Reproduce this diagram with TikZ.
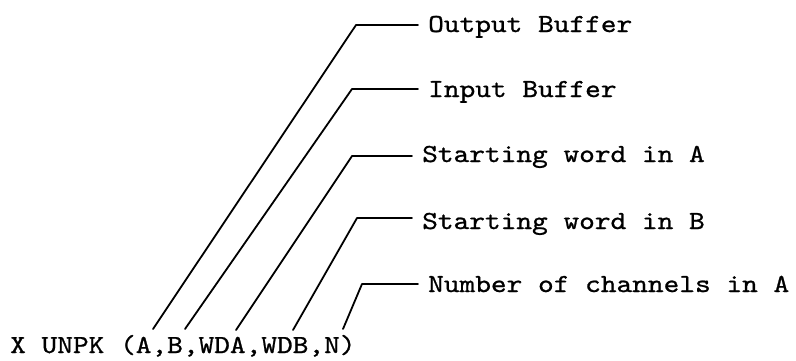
\documentclass[tikz,border=0pt]{standalone}
\usepackage{fontspec}
\newfontfamily\tw[FakeStretch=1.15,FakeBold=0.9]{lmmono10-regular.otf}
\begin{document}
\begin{tikzpicture}[x=1pt,y=-1pt,
  lead/.style={line width=1.8pt,line cap=round,line join=round},
  call/.style={inner sep=0pt,anchor=base west,font=\tw\fontsize{26}{30}\selectfont},
  desc/.style={inner ysep=0pt,inner xsep=10pt,anchor=base west,font=\tw\fontsize{26}{30}\selectfont}]
\useasboundingbox (0,0) rectangle (796,360);

% the call statement
\node[call] (stmt) at (10,353) {X UNPK (A,B,WDA,WDB,N)};

% argument descriptions
\node[desc] (d1) at (418,32)  {Output Buffer};
\node[desc] (d2) at (418,97)  {Input Buffer};
\node[desc] (d3) at (412,162) {Starting word in A};
\node[desc] (d4) at (412,229) {Starting word in B};
\node[desc] (d5) at (418,292) {Number of channels in A};

% foot of each leader, just above its argument
\coordinate (f1) at (153,329);
\coordinate (f2) at (185,329);
\coordinate (f3) at (236,330);
\coordinate (f4) at (293,330);
\coordinate (f5) at (343,329);

% knee of each leader
\coordinate (k1) at (356,25);
\coordinate (k2) at (352,89);
\coordinate (k3) at (352,156);
\coordinate (k4) at (357,218);
\coordinate (k5) at (362,284);

\foreach \i in {1,...,5}
  \draw[lead] (f\i) -- (k\i) -- (k\i -| d\i.west);
\end{tikzpicture}
\end{document}
